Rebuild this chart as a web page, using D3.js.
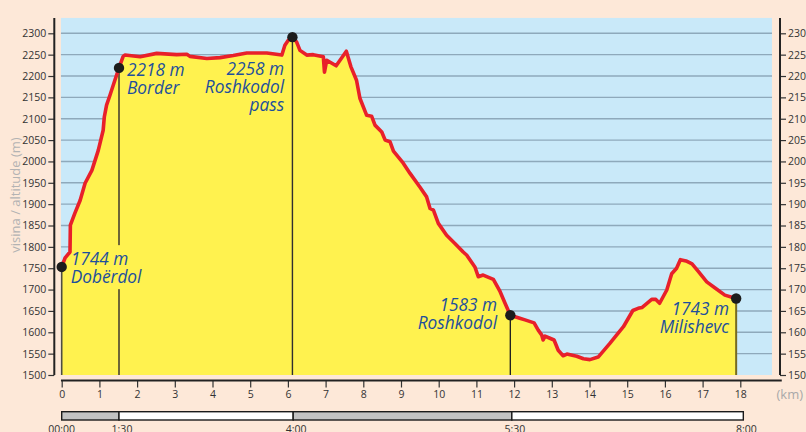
<!DOCTYPE html>
<html>
<head>
<meta charset="utf-8">
<script src="https://cdn.jsdelivr.net/npm/d3@7"></script>
<style>
  html, body { margin: 0; padding: 0; background: #fde8d8; }
  svg { display: block; }
  text { font-family: "Open Sans", "Noto Sans", sans-serif; }
</style>
</head>
<body>
<svg id="chart" width="806" height="432"></svg>
<script>
// ---------- DATA ----------
const distKm = [0.00,0.09,0.22,0.23,0.35,0.49,0.62,0.80,0.97,1.10,1.13,1.19,1.28,1.41,1.52,1.63,1.68,2.08,2.52,3.05,3.32,3.40,3.85,4.20,4.55,4.91,5.44,5.84,5.92,6.01,6.12,6.23,6.32,6.50,6.67,6.94,6.97,7.03,7.28,7.55,7.67,7.82,7.91,8.09,8.22,8.31,8.49,8.58,8.71,8.80,9.06,9.24,9.50,9.68,9.77,9.86,9.99,10.21,10.43,10.65,10.74,10.96,11.05,11.18,11.45,11.63,11.76,11.90,12.15,12.29,12.53,12.64,12.73,12.77,12.82,12.95,13.06,13.17,13.30,13.40,13.66,13.84,14.01,14.23,14.54,14.90,15.15,15.29,15.39,15.65,15.76,15.86,16.05,16.18,16.31,16.41,16.56,16.72,16.88,17.11,17.34,17.59,17.89];
const elevation = [1753,1774,1788,1851,1879,1909,1949,1979,2026,2073,2104,2132,2155,2190,2219,2246,2249,2245,2253,2250,2251,2246,2241,2243,2248,2254,2254,2249,2272,2284,2291,2280,2260,2249,2250,2245,2209,2237,2224,2258,2222,2190,2148,2108,2106,2085,2069,2050,2046,2024,1996,1972,1940,1917,1890,1886,1855,1827,1808,1788,1781,1753,1730,1734,1724,1695,1668,1640,1633,1629,1622,1605,1594,1582,1591,1586,1582,1558,1545,1549,1544,1538,1536,1542,1574,1613,1651,1656,1658,1677,1677,1668,1699,1737,1750,1770,1767,1760,1743,1718,1703,1687,1679];

const markerKm = [0, 1.52, 6.12, 11.90, 17.89];
const markerElev = [1753, 2219, 2291, 1640, 1679];
const markerLabels = [["1744 m","Dobërdol"],["2218 m","Border"],["2258 m","Roshkodol","pass"],["1583 m","Roshkodol"],["1743 m","Milishevc"]];

const yTicks = d3.range(1500, 2301, 50);
const xTicks = d3.range(0, 19, 1);

const timeKm = [0, 1.52, 6.14, 11.94, 18.08];
const timeLabels = ["00:00","1:30","4:00","5:30","8:00"];

// ---------- LAYOUT ----------
const svg = d3.select("#chart");
const x = d3.scaleLinear().domain([0, 18]).range([61.7, 740.3]);
const y = d3.scaleLinear().domain([1500, 2300]).range([375, 33.3]);

const plotLeft = x(-0.02), plotRight = x(18.84), plotTop = y(2336), plotBottom = y(1500);

svg.append("rect")
  .attr("x", plotLeft).attr("y", plotTop)
  .attr("width", plotRight - plotLeft).attr("height", plotBottom - plotTop)
  .attr("fill", "#c9e9f9");

svg.append("g").selectAll("line").data(yTicks.filter(d => d > 1500)).join("line")
  .attr("x1", plotLeft).attr("x2", plotRight)
  .attr("y1", d => y(d)).attr("y2", d => y(d))
  .attr("stroke", "#8ea9bb").attr("stroke-width", 1.4);

const pts = distKm.map((d, i) => [d, elevation[i]]);

svg.append("path")
  .datum(pts)
  .attr("d", d3.area().x(d => x(d[0])).y0(y(1500)).y1(d => y(d[1])))
  .attr("fill", "#fff24f");

const dropStyles = [
  {color: "#4d4d44", w: 1.6},
  {color: "#6e6636", w: 2},
  {color: "#2f2f2f", w: 1.4},
  {color: "#222222", w: 1.4},
  {color: "#766a22", w: 2}
];
const dropSegs = [];
markerKm.forEach((k, i) => {
  if (i === 1) {
    dropSegs.push({k, a: markerElev[i], b: 1804, s: dropStyles[i]});
    dropSegs.push({k, a: 1701, b: 1500, s: dropStyles[i]});
  } else {
    dropSegs.push({k, a: markerElev[i], b: 1500, s: dropStyles[i]});
  }
});
svg.append("g").selectAll("line").data(dropSegs).join("line")
  .attr("x1", d => x(d.k)).attr("x2", d => x(d.k))
  .attr("y1", d => y(d.a)).attr("y2", d => y(d.b))
  .attr("stroke", d => d.s.color).attr("stroke-width", d => d.s.w);

svg.append("path")
  .datum(pts)
  .attr("d", d3.line().x(d => x(d[0])).y(d => y(d[1])))
  .attr("fill", "none").attr("stroke", "#e8202a")
  .attr("stroke-width", 3.6).attr("stroke-linejoin", "round").attr("stroke-linecap", "round");

svg.append("g").selectAll("circle").data(markerKm).join("circle")
  .attr("cx", d => x(d)).attr("cy", (d, i) => y(markerElev[i]))
  .attr("r", 5.2).attr("fill", "#1c1c1c");

const labelLayout = [
  {anchor: "start", dx: 9, dy: -1.5},
  {anchor: "start", dx: 8, dy: 8.3},
  {anchor: "end", dx: -8.3, dy: 38.3},
  {anchor: "end", dx: -13.3, dy: -4},
  {anchor: "end", dx: -7, dy: 16.7}
];
markerLabels.forEach((lines, i) => {
  const L = labelLayout[i];
  const t = svg.append("text")
    .attr("x", x(markerKm[i]) + L.dx)
    .attr("y", y(markerElev[i]) + L.dy)
    .attr("text-anchor", L.anchor)
    .attr("font-style", "italic")
    .attr("font-size", 17.3)
    .attr("fill", "#1d4f9c");
  lines.forEach((s, j) => {
    t.append("tspan").attr("x", x(markerKm[i]) + L.dx).attr("dy", j === 0 ? 0 : 18).text(s);
  });
});

const axL = svg.append("g").attr("transform", `translate(${54.3},0)`)
  .call(d3.axisLeft(y).tickValues(yTicks).tickSize(6).tickPadding(2).tickFormat(d3.format("d")));
axL.select(".domain").remove();
axL.selectAll(".tick line").attr("stroke", "#333").attr("stroke-width", 1.2);
axL.selectAll(".tick text").attr("font-size", 10.5).attr("fill", "#333").attr("font-family", "'Open Sans', sans-serif");
axL.append("line").attr("x1", 0).attr("x2", 0).attr("y1", plotTop).attr("y2", plotBottom)
  .attr("stroke", "#222").attr("stroke-width", 2);

const axR = svg.append("g").attr("transform", `translate(${780},0)`)
  .call(d3.axisRight(y).tickValues(yTicks).tickSize(6).tickPadding(2).tickFormat(d3.format("d")));
axR.select(".domain").remove();
axR.selectAll(".tick line").attr("stroke", "#333").attr("stroke-width", 1.2);
axR.selectAll(".tick text").attr("font-size", 10.5).attr("fill", "#333").attr("font-family", "'Open Sans', sans-serif");
axR.append("line").attr("x1", 0).attr("x2", 0).attr("y1", plotTop).attr("y2", plotBottom)
  .attr("stroke", "#222").attr("stroke-width", 2);

const axB = svg.append("g").attr("transform", `translate(0,${380.5})`)
  .call(d3.axisBottom(x).tickValues(xTicks).tickSize(7).tickPadding(3).tickFormat(d3.format("d")));
axB.select(".domain").remove();
axB.selectAll(".tick line").attr("stroke", "#333").attr("stroke-width", 1.2);
axB.selectAll(".tick text").attr("font-size", 10.5).attr("fill", "#333").attr("font-family", "'Open Sans', sans-serif");
axB.append("line").attr("x1", x(-0.02)).attr("x2", x(19.1)).attr("y1", 0).attr("y2", 0)
  .attr("stroke", "#222").attr("stroke-width", 2);

svg.append("text").attr("x", 776.5).attr("y", 399)
  .attr("font-size", 13).attr("fill", "#a9a9a9").text("(km)");

svg.append("text")
  .attr("transform", `translate(20,195) rotate(-90)`)
  .attr("text-anchor", "middle")
  .attr("font-size", 13).attr("fill", "#b3b3b3")
  .text("visina / altitude (m)");

const segs = d3.range(timeKm.length - 1).map(i => ({a: timeKm[i], b: timeKm[i + 1], i}));
svg.append("g").selectAll("rect").data(segs).join("rect")
  .attr("x", d => x(d.a)).attr("width", d => x(d.b) - x(d.a))
  .attr("y", 411.7).attr("height", 8.3)
  .attr("fill", d => d.i % 2 === 0 ? "#c2c2c2" : "#ffffff")
  .attr("stroke", "#1a1a1a").attr("stroke-width", 1.4);

svg.append("g").selectAll("text").data(timeLabels).join("text")
  .attr("x", (d, i) => x(timeKm[i]) + (i === 0 ? 0 : 3))
  .attr("y", 433)
  .attr("text-anchor", "middle")
  .attr("font-size", 10.5).attr("fill", "#333")
  .text(d => d);
</script>
</body>
</html>
